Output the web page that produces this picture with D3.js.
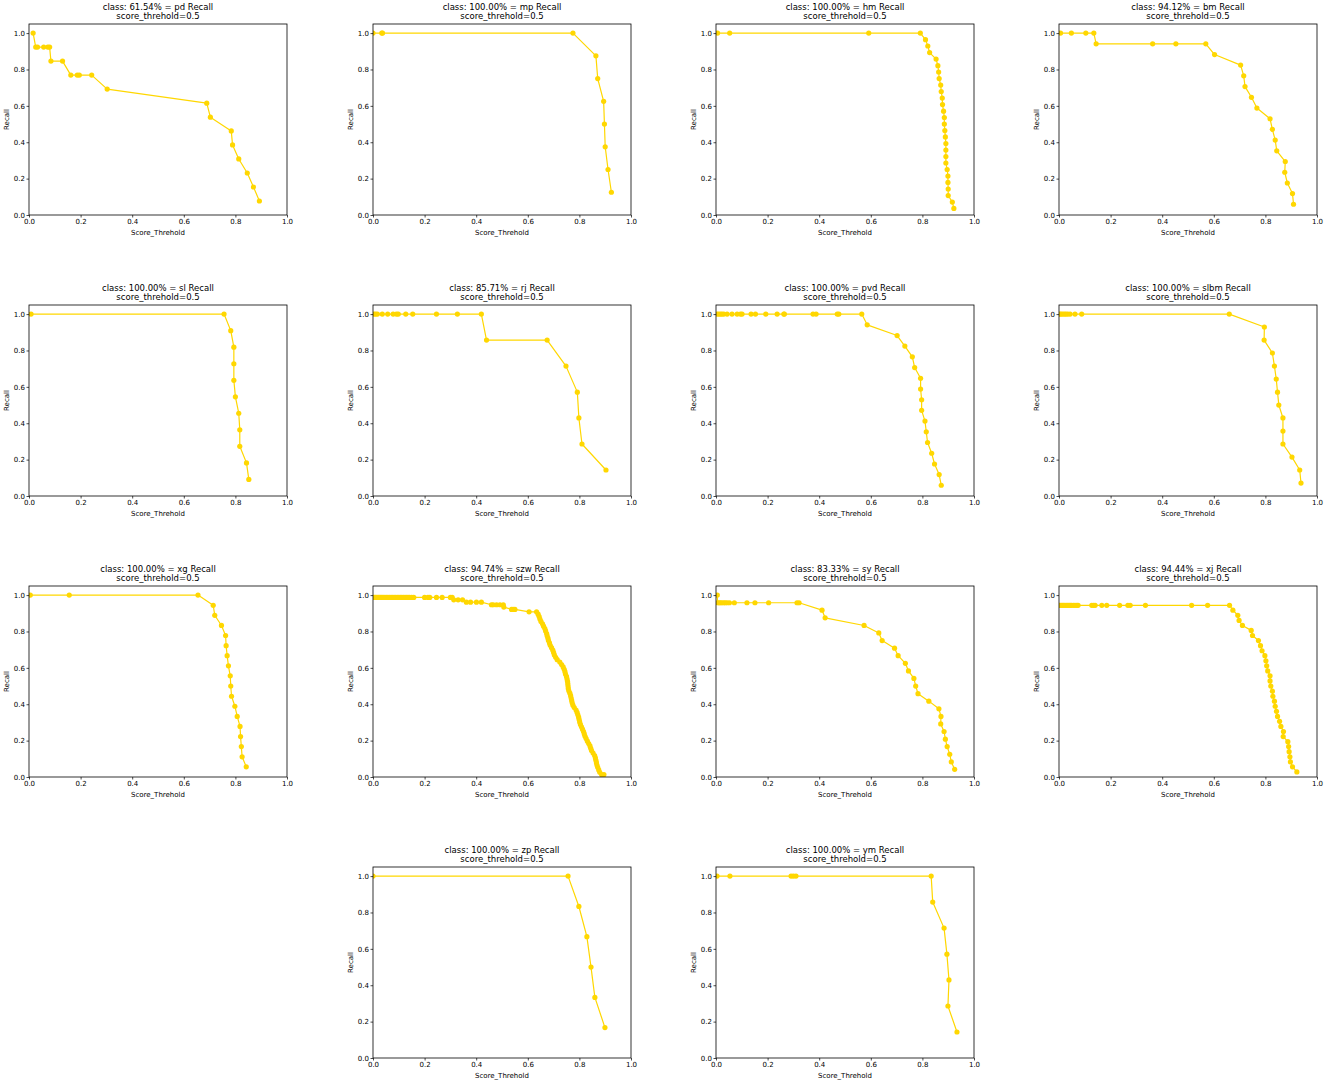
<!DOCTYPE html>
<html>
<head>
<meta charset="utf-8">
<script src="https://cdn.jsdelivr.net/npm/d3@7"></script>
<style>
  html, body { margin: 0; padding: 0; background: #fff; }
  svg { display: block; }
  text { font-family: "DejaVu Sans", sans-serif; fill: #000; }
</style>
</head>
<body>
<svg id="chart" width="1325" height="1086"></svg>
<script>
// ---------------- DATA ----------------
const classNames = ["pd", "mp", "hm", "bm", "sl", "rj", "pvd", "slbm", "xg", "szw", "sy", "xj", "zp", "ym"];
const classPercents = ["61.54%", "100.00%", "100.00%", "94.12%", "100.00%", "85.71%", "100.00%", "100.00%", "100.00%", "94.74%", "83.33%", "94.44%", "100.00%", "100.00%"];
const scoreThreshold = "0.5";
const xTickValues = [0.0, 0.2, 0.4, 0.6, 0.8, 1.0];
const yTickValues = [0.0, 0.2, 0.4, 0.6, 0.8, 1.0];

const pdScore = [0.016, 0.026, 0.033, 0.057, 0.073, 0.08, 0.085, 0.13, 0.162, 0.187, 0.195, 0.243, 0.303, 0.689, 0.703, 0.784, 0.789, 0.813, 0.846, 0.87, 0.893];
const pdRecall = [1.0, 0.923, 0.923, 0.923, 0.923, 0.923, 0.846, 0.846, 0.769, 0.769, 0.769, 0.769, 0.692, 0.615, 0.538, 0.462, 0.385, 0.308, 0.231, 0.154, 0.077];

const mpScore = [0.0, 0.034, 0.037, 0.775, 0.864, 0.871, 0.894, 0.897, 0.9, 0.911, 0.924];
const mpRecall = [1.0, 1.0, 1.0, 1.0, 0.875, 0.75, 0.625, 0.5, 0.375, 0.25, 0.125];

const hmScore = [0.006, 0.053, 0.592, 0.792, 0.812, 0.821, 0.828, 0.853, 0.86, 0.863, 0.865, 0.871, 0.873, 0.877, 0.878, 0.882, 0.885, 0.885, 0.887, 0.889, 0.891, 0.891, 0.891, 0.891, 0.896, 0.899, 0.899, 0.9, 0.9, 0.916, 0.922];
const hmRecall = [1.0, 1.0, 1.0, 1.0, 0.964, 0.929, 0.893, 0.857, 0.821, 0.786, 0.75, 0.714, 0.679, 0.643, 0.607, 0.571, 0.536, 0.5, 0.464, 0.429, 0.393, 0.357, 0.321, 0.286, 0.25, 0.214, 0.179, 0.143, 0.107, 0.071, 0.036];

const bmScore = [0.006, 0.048, 0.104, 0.135, 0.144, 0.363, 0.453, 0.569, 0.603, 0.704, 0.716, 0.721, 0.746, 0.767, 0.818, 0.827, 0.838, 0.844, 0.877, 0.875, 0.885, 0.905, 0.909];
const bmRecall = [1.0, 1.0, 1.0, 1.0, 0.941, 0.941, 0.941, 0.941, 0.882, 0.824, 0.765, 0.706, 0.647, 0.588, 0.529, 0.471, 0.412, 0.353, 0.294, 0.235, 0.176, 0.118, 0.059];

const slScore = [0.008, 0.756, 0.782, 0.794, 0.794, 0.794, 0.8, 0.813, 0.817, 0.817, 0.843, 0.852];
const slRecall = [1.0, 1.0, 0.909, 0.818, 0.727, 0.636, 0.545, 0.455, 0.364, 0.273, 0.182, 0.091];

const rjScore = [0.004, 0.01, 0.017, 0.036, 0.057, 0.078, 0.091, 0.098, 0.127, 0.154, 0.246, 0.327, 0.42, 0.44, 0.675, 0.748, 0.792, 0.798, 0.81, 0.903];
const rjRecall = [1.0, 1.0, 1.0, 1.0, 1.0, 1.0, 1.0, 1.0, 1.0, 1.0, 1.0, 1.0, 1.0, 0.857, 0.857, 0.714, 0.571, 0.429, 0.286, 0.143];

const pvdScore = [0.004, 0.01, 0.017, 0.023, 0.03, 0.043, 0.062, 0.082, 0.095, 0.101, 0.136, 0.153, 0.193, 0.237, 0.263, 0.265, 0.376, 0.388, 0.47, 0.476, 0.565, 0.586, 0.702, 0.732, 0.761, 0.77, 0.793, 0.793, 0.797, 0.797, 0.81, 0.815, 0.82, 0.836, 0.847, 0.865, 0.873];
const pvdRecall = [1.0, 1.0, 1.0, 1.0, 1.0, 1.0, 1.0, 1.0, 1.0, 1.0, 1.0, 1.0, 1.0, 1.0, 1.0, 1.0, 1.0, 1.0, 1.0, 1.0, 1.0, 0.941, 0.882, 0.824, 0.765, 0.706, 0.647, 0.588, 0.529, 0.471, 0.412, 0.353, 0.294, 0.235, 0.176, 0.118, 0.059];

const slbmScore = [0.003, 0.008, 0.014, 0.021, 0.027, 0.034, 0.043, 0.062, 0.088, 0.66, 0.796, 0.795, 0.827, 0.835, 0.842, 0.847, 0.852, 0.868, 0.868, 0.868, 0.903, 0.933, 0.938];
const slbmRecall = [1.0, 1.0, 1.0, 1.0, 1.0, 1.0, 1.0, 1.0, 1.0, 1.0, 0.929, 0.857, 0.786, 0.714, 0.643, 0.571, 0.5, 0.429, 0.357, 0.286, 0.214, 0.143, 0.071];

const xgScore = [0.005, 0.156, 0.655, 0.714, 0.72, 0.746, 0.762, 0.764, 0.768, 0.773, 0.78, 0.782, 0.785, 0.798, 0.807, 0.818, 0.82, 0.823, 0.826, 0.842];
const xgRecall = [1.0, 1.0, 1.0, 0.944, 0.889, 0.833, 0.778, 0.722, 0.667, 0.611, 0.556, 0.5, 0.444, 0.389, 0.333, 0.278, 0.222, 0.167, 0.111, 0.056];

const szwScore = [
  0.002, 0.006, 0.01, 0.015, 0.02, 0.025, 0.03, 0.035, 0.04, 0.046, 0.052, 0.058, 0.064, 0.07, 0.076, 0.082, 0.088, 0.094, 0.1, 0.106,
  0.112, 0.118, 0.124, 0.13, 0.136, 0.142, 0.15, 0.158, 0.2, 0.213, 0.22, 0.246, 0.268, 0.3, 0.307,
  0.313, 0.33, 0.347,
  0.362, 0.378, 0.401, 0.42,
  0.459, 0.466, 0.479, 0.492, 0.505,
  0.507,
  0.537, 0.543, 0.55,
  0.605, 0.634,
  0.64, 0.644, 0.647, 0.651, 0.657, 0.661, 0.666, 0.669, 0.673, 0.675, 0.678, 0.68, 0.684, 0.687, 0.692, 0.697, 0.7, 0.703, 0.708, 0.714,
  0.724, 0.731, 0.737, 0.741, 0.744, 0.746, 0.75, 0.752, 0.754, 0.755, 0.756, 0.757, 0.759, 0.763, 0.766, 0.768, 0.77, 0.772, 0.775, 0.78,
  0.787, 0.791, 0.794, 0.797, 0.799, 0.801, 0.804, 0.808, 0.812, 0.816, 0.819, 0.822, 0.826, 0.831, 0.836, 0.841, 0.844, 0.847, 0.853, 0.859,
  0.862, 0.864, 0.866, 0.868, 0.871, 0.875, 0.879, 0.886, 0.895
];
const szwRecall = [
  0.987, 0.987, 0.987, 0.987, 0.987, 0.987, 0.987, 0.987, 0.987, 0.987, 0.987, 0.987, 0.987, 0.987, 0.987, 0.987, 0.987, 0.987, 0.987, 0.987,
  0.987, 0.987, 0.987, 0.987, 0.987, 0.987, 0.987, 0.987, 0.987, 0.987, 0.987, 0.987, 0.987, 0.987, 0.987,
  0.974, 0.974, 0.974,
  0.961, 0.961, 0.961, 0.961,
  0.947, 0.947, 0.947, 0.947, 0.947,
  0.934,
  0.921, 0.921, 0.921,
  0.908, 0.908,
  0.895, 0.882, 0.868, 0.855, 0.842, 0.829, 0.816, 0.803, 0.789, 0.776, 0.763, 0.75, 0.737, 0.724, 0.711, 0.697, 0.684, 0.671, 0.658, 0.645,
  0.632, 0.618, 0.605, 0.592, 0.579, 0.566, 0.553, 0.539, 0.526, 0.513, 0.5, 0.487, 0.474, 0.461, 0.447, 0.434, 0.421, 0.408, 0.395, 0.382,
  0.368, 0.355, 0.342, 0.329, 0.316, 0.303, 0.289, 0.276, 0.263, 0.25, 0.237, 0.224, 0.211, 0.197, 0.184, 0.171, 0.158, 0.145, 0.132, 0.118,
  0.105, 0.092, 0.079, 0.066, 0.053, 0.039, 0.026, 0.013, 0.013
];

const syScore = [0.005, 0.006, 0.012, 0.017, 0.023, 0.03, 0.036, 0.043, 0.052, 0.071, 0.12, 0.151, 0.204, 0.314, 0.322, 0.411, 0.423, 0.574, 0.631, 0.644, 0.692, 0.706, 0.734, 0.746, 0.767, 0.774, 0.783, 0.825, 0.864, 0.872, 0.871, 0.884, 0.889, 0.896, 0.906, 0.912, 0.925];
const syRecall = [1.0, 0.958, 0.958, 0.958, 0.958, 0.958, 0.958, 0.958, 0.958, 0.958, 0.958, 0.958, 0.958, 0.958, 0.958, 0.917, 0.875, 0.833, 0.792, 0.75, 0.708, 0.667, 0.625, 0.583, 0.542, 0.5, 0.458, 0.417, 0.375, 0.333, 0.292, 0.25, 0.208, 0.167, 0.125, 0.083, 0.042];

const xjScore = [0.003, 0.008, 0.013, 0.018, 0.023, 0.029, 0.034, 0.039, 0.044, 0.049, 0.056, 0.062, 0.069, 0.074, 0.127, 0.134, 0.14, 0.166, 0.185, 0.235, 0.267, 0.276, 0.335, 0.514, 0.576, 0.661,
  0.674, 0.693, 0.698, 0.711, 0.745, 0.75, 0.773, 0.781, 0.787, 0.798, 0.802, 0.805, 0.809, 0.818, 0.818, 0.821, 0.827, 0.829, 0.835, 0.838, 0.843, 0.847, 0.855, 0.86, 0.87, 0.869, 0.887, 0.89, 0.892, 0.895, 0.897, 0.905, 0.922];
const xjRecall = [0.944, 0.944, 0.944, 0.944, 0.944, 0.944, 0.944, 0.944, 0.944, 0.944, 0.944, 0.944, 0.944, 0.944, 0.944, 0.944, 0.944, 0.944, 0.944, 0.944, 0.944, 0.944, 0.944, 0.944, 0.944, 0.944,
  0.917, 0.889, 0.861, 0.833, 0.806, 0.778, 0.75, 0.722, 0.694, 0.667, 0.639, 0.611, 0.583, 0.556, 0.528, 0.5, 0.472, 0.444, 0.417, 0.389, 0.361, 0.333, 0.306, 0.278, 0.25, 0.222, 0.194, 0.167, 0.139, 0.111, 0.083, 0.056, 0.028];

const zpScore = [0.0, 0.756, 0.798, 0.829, 0.845, 0.86, 0.899];
const zpRecall = [1.0, 1.0, 0.833, 0.667, 0.5, 0.333, 0.167];

const ymScore = [0.004, 0.054, 0.291, 0.3, 0.31, 0.834, 0.84, 0.884, 0.895, 0.903, 0.899, 0.934];
const ymRecall = [1.0, 1.0, 1.0, 1.0, 1.0, 1.0, 0.857, 0.714, 0.571, 0.429, 0.286, 0.143];

const seriesScores = [pdScore, mpScore, hmScore, bmScore, slScore, rjScore, pvdScore, slbmScore, xgScore, szwScore, syScore, xjScore, zpScore, ymScore];
const seriesRecalls = [pdRecall, mpRecall, hmRecall, bmRecall, slRecall, rjRecall, pvdRecall, slbmRecall, xgRecall, szwRecall, syRecall, xjRecall, zpRecall, ymRecall];

// ---------------- LAYOUT ----------------
const colLeft = [29, 373, 716, 1059];
const rowTop = [24, 305, 586, 867];
const plotW = 258, plotH = 191;
const gridPos = [[0,0],[0,1],[0,2],[0,3],[1,0],[1,1],[1,2],[1,3],[2,0],[2,1],[2,2],[2,3],[3,1],[3,2]];
const lineColor = "#FFD700";

const svg = d3.select("#chart");
svg.append("rect").attr("width", 1325).attr("height", 1086).attr("fill", "#fff");

classNames.forEach((name, i) => {
  const [r, c] = gridPos[i];
  const g = svg.append("g").attr("transform", `translate(${colLeft[c]},${rowTop[r]})`);
  const x = d3.scaleLinear().domain([0, 1]).range([0, plotW]);
  const y = d3.scaleLinear().domain([0, 1.05]).range([plotH, 0]);

  const clipId = "clip" + i;
  g.append("clipPath").attr("id", clipId)
    .append("rect").attr("width", plotW).attr("height", plotH);

  const data = seriesScores[i].map((s, k) => ({ s, r: seriesRecalls[i][k] }));
  const plot = g.append("g").attr("clip-path", `url(#${clipId})`);
  plot.append("path")
    .datum(data)
    .attr("fill", "none")
    .attr("stroke", lineColor)
    .attr("stroke-width", 1.2)
    .attr("stroke-linejoin", "round")
    .attr("d", d3.line().x(d => x(d.s)).y(d => y(d.r)));
  plot.selectAll("circle").data(data).enter().append("circle")
    .attr("cx", d => x(d.s)).attr("cy", d => y(d.r))
    .attr("r", 2.6).attr("fill", lineColor);

  // axes
  const xAxis = g.append("g").attr("transform", `translate(0,${plotH})`)
    .call(d3.axisBottom(x).tickValues(xTickValues).tickFormat(d3.format(".1f")).tickSize(2.5).tickPadding(2));
  const yAxis = g.append("g")
    .call(d3.axisLeft(y).tickValues(yTickValues).tickFormat(d3.format(".1f")).tickSize(2.5).tickPadding(1.5));
  [xAxis, yAxis].forEach(a => {
    a.select(".domain").remove();
    a.selectAll(".tick line").attr("stroke", "#000").attr("stroke-width", 0.7);
    a.selectAll(".tick text").attr("font-size", 7).attr("font-family", "DejaVu Sans").attr("fill", "#000");
  });

  // spines
  g.append("rect").attr("width", plotW).attr("height", plotH)
    .attr("fill", "none").attr("stroke", "#000").attr("stroke-width", 0.8);

  // labels
  g.append("text").attr("x", plotW / 2).attr("y", plotH + 19.5)
    .attr("text-anchor", "middle").attr("font-size", 7).text("Score_Threhold");
  g.append("text").attr("transform", `translate(-20.5,${plotH / 2}) rotate(-90)`)
    .attr("text-anchor", "middle").attr("font-size", 7).text("Recall");

  // title
  g.append("text").attr("x", plotW / 2).attr("y", -14.5)
    .attr("text-anchor", "middle").attr("font-size", 8.5)
    .text(`class: ${classPercents[i]} = ${name} Recall`);
  g.append("text").attr("x", plotW / 2).attr("y", -5)
    .attr("text-anchor", "middle").attr("font-size", 8.5)
    .text(`score_threhold=${scoreThreshold}`);
});
</script>
</body>
</html>
